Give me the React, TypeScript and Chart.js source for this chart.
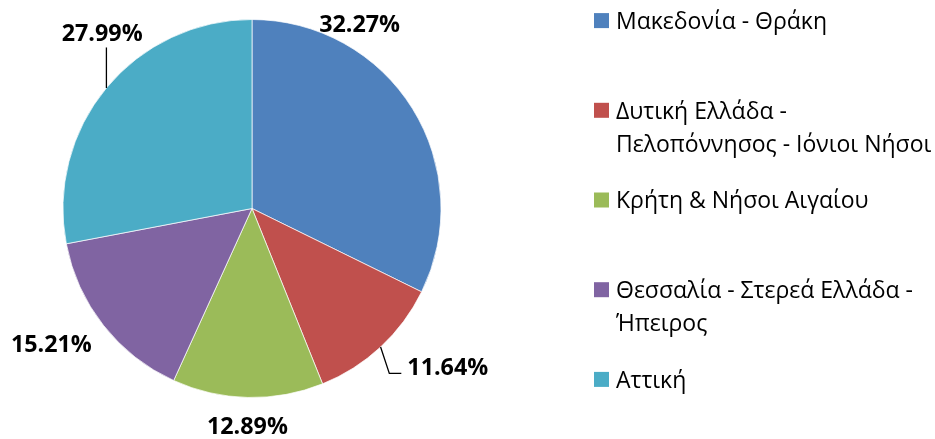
import React, { useEffect, useRef } from "react";
import { Chart, registerables } from "chart.js";

Chart.register(...registerables);

// ---- data ----
const legendLines: string[][] = [
  ["Μακεδονία - Θράκη"],
  ["Δυτική Ελλάδα -", "Πελοπόννησος - Ιόνιοι Νήσοι"],
  ["Κρήτη & Νήσοι Αιγαίου"],
  ["Θεσσαλία - Στερεά Ελλάδα -", "Ήπειρος"],
  ["Αττική"],
];
const categories = legendLines.map((l) => l.join(" "));
const values = [32.27, 11.64, 12.89, 15.21, 27.99];
const colors = ["#4F81BD", "#C0504D", "#9BBB59", "#8064A2", "#4BACC6"];

// ---- label placement (polar, relative to pie centre, in radius units) ----
const labelAngles = [-59.8, 38.9, 91.2, 146.1, -130.4];
const labelDist = [1.132, 1.331, 1.152, 1.279, 1.223];
const leaderKind: (string | null)[] = [null, "elbow", null, null, "vertical"];

const FONT = '"Open Sans", "Noto Sans", sans-serif';
const LABEL_SIZE = 23.3;
const LEGEND_SIZE = 23;

const overlayPlugin = {
  id: "overlay",
  afterDatasetsDraw(chart: any) {
    const ctx: CanvasRenderingContext2D = chart.ctx;
    const meta = chart.getDatasetMeta(0);
    ctx.save();
    meta.data.forEach((arc: any, i: number) => {
      const { x, y, outerRadius, startAngle, endAngle } = arc.getProps(
        ["x", "y", "outerRadius", "startAngle", "endAngle"],
        true
      );
      const a = (labelAngles[i] * Math.PI) / 180;
      const lx = x + Math.cos(a) * outerRadius * labelDist[i];
      const ly = y + Math.sin(a) * outerRadius * labelDist[i];
      const text = `${values[i].toFixed(2)}%`;
      ctx.font = `bold ${LABEL_SIZE}px ${FONT}`;
      ctx.fillStyle = "#000";
      ctx.textAlign = "center";
      ctx.textBaseline = "alphabetic";
      ctx.fillText(text, lx, ly + LABEL_SIZE * 0.357);
      const w = ctx.measureText(text).width;
      const mid = (startAngle + endAngle) / 2;
      const px = x + Math.cos(mid) * outerRadius;
      const py = y + Math.sin(mid) * outerRadius;
      ctx.strokeStyle = "#000";
      ctx.lineWidth = 1.3;
      if (leaderKind[i] === "elbow") {
        const left = lx - w / 2;
        ctx.beginPath();
        ctx.moveTo(px, py);
        ctx.lineTo(left - 18, ly + 7);
        ctx.lineTo(left - 6, ly + 7);
        ctx.stroke();
      } else if (leaderKind[i] === "vertical") {
        ctx.beginPath();
        ctx.moveTo(px, py);
        ctx.lineTo(px, ly + 15);
        ctx.stroke();
      }
    });

    // legend
    const boxX = 594;
    const boxSize = 15;
    const textX = 616;
    const firstY = 20.6;
    const step = 89.7;
    const lineStep = 33.5;
    ctx.font = `${LEGEND_SIZE}px ${FONT}`;
    ctx.textAlign = "left";
    ctx.textBaseline = "alphabetic";
    legendLines.forEach((lines, i) => {
      const cy = firstY + i * step;
      ctx.fillStyle = colors[i];
      ctx.fillRect(boxX, cy - boxSize / 2, boxSize, boxSize);
      ctx.fillStyle = "#000";
      lines.forEach((ln, j) => {
        ctx.fillText(ln, textX, cy + j * lineStep + LEGEND_SIZE * 0.357);
      });
    });
    ctx.restore();
  },
};

export default function App() {
  const ref = useRef<HTMLCanvasElement | null>(null);
  useEffect(() => {
    document.body.style.margin = "0";
    const canvas = ref.current!;
    const chart = new Chart(canvas, {
      type: "pie",
      data: {
        labels: categories,
        datasets: [
          {
            data: values,
            backgroundColor: colors,
            borderColor: "rgba(255,255,255,0.7)",
            borderWidth: 1,
          },
        ],
      },
      options: {
        responsive: false,
        animation: false,
        devicePixelRatio: 1,
        layout: { padding: { left: 62.5, top: 19, right: 493.5, bottom: 41 } },
        plugins: {
          legend: { display: false },
          tooltip: { enabled: false },
        },
      },
      plugins: [overlayPlugin],
    });
    return () => chart.destroy();
  }, []);
  return (
    <canvas
      ref={ref}
      width={935}
      height={439}
      style={{ display: "block", width: 935, height: 439 }}
    />
  );
}
